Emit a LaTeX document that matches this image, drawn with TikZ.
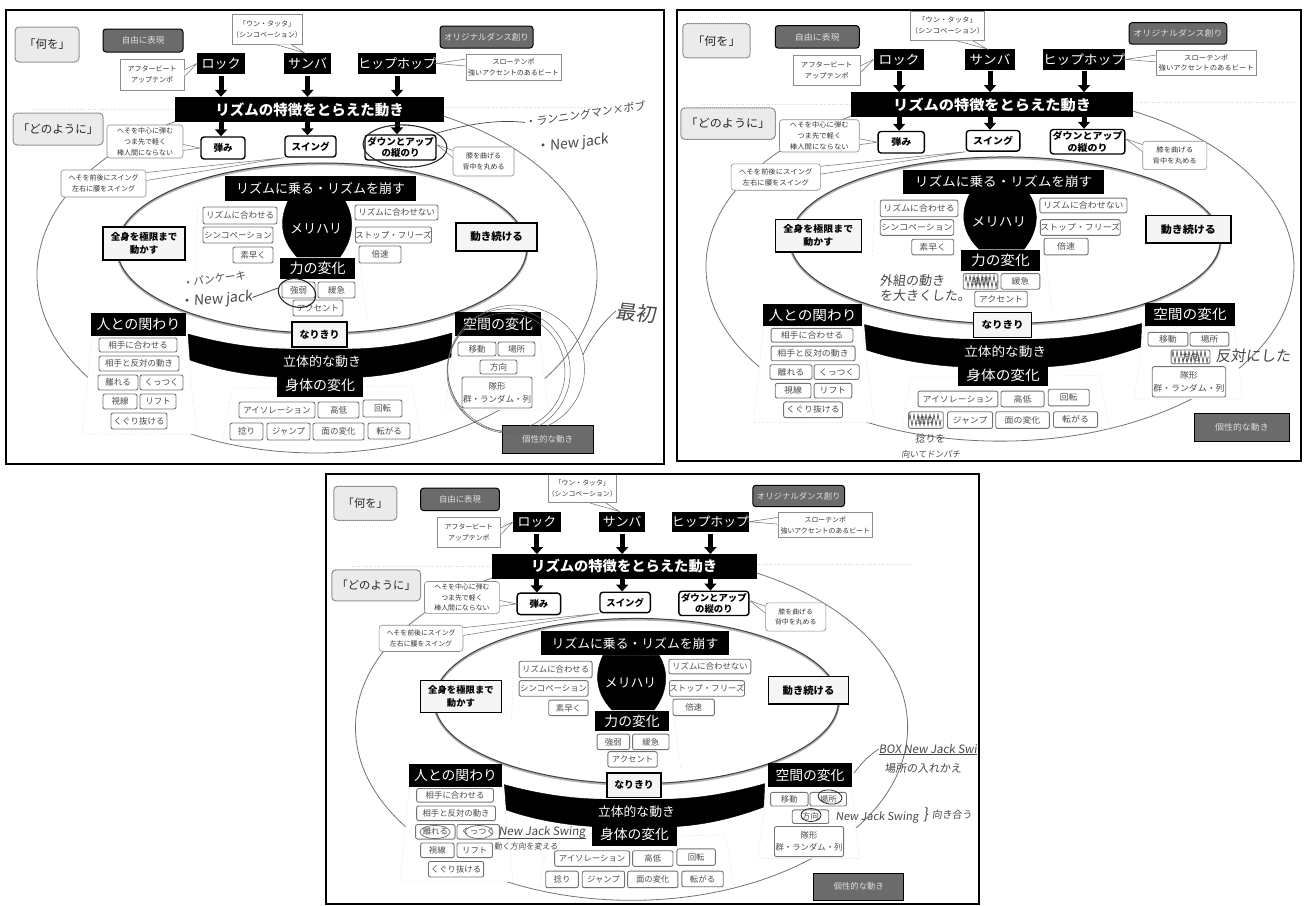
\documentclass[tikz,border=0pt]{standalone}
\usepackage{fontspec}
\setmainfont{Noto Sans CJK JP}
\newfontfamily\hand[FakeSlant=0.12]{Noto Sans CJK JP}
\usetikzlibrary{arrows.meta,calc,shapes.geometric,decorations.pathmorphing}
\tikzset{
  soft/.style={draw=black!55,line width=.9pt,rounded corners=2pt,fill=white,text=black!70,font=\fontsize{8.5}{10}\selectfont},
  note/.style={draw=black!45,line width=.6pt,fill=white,text=black!80,font=\fontsize{7}{11}\selectfont},
  rnote/.style={note,rounded corners=3pt},
  head/.style={fill=black,text=white,font=\fontsize{14}{16}\selectfont},
  chip/.style={fill=black,text=white,font=\fontsize{13}{15}\selectfont},
  heavy/.style={draw=black,line width=1.4pt,rounded corners=3pt,fill=white,text=black,font=\fontsize{9.5}{12}\selectfont\bfseries},
  heavysq/.style={draw=black,line width=1.4pt,fill=black!4,text=black,font=\fontsize{9.5}{13}\selectfont\bfseries},
  light/.style={draw=black!50,line width=1pt,dash pattern=on 1.5pt off .5pt,rounded corners=4pt,fill=black!8,text=black!85,font=\fontsize{11.5}{13}\selectfont},
  darkbox/.style={draw=black,line width=1pt,rounded corners=3pt,fill=black!58,text=black!12,font=\fontsize{8.5}{10}\selectfont},
  darksq/.style={draw=black,line width=1pt,fill=black!58,text=black!12,font=\fontsize{8.5}{10}\selectfont},
  tail/.style={draw=black!50,line width=.6pt,fill=white},
  bigarrow/.style={-{Triangle[width=12pt,length=7pt]},line width=5pt,black},
  faint/.style={draw=black!16,line width=.6pt,dotted,fill=white},
  fainter/.style={draw=black!16,line width=.6pt,dotted},
  hw/.style={draw=black!72,line width=.55pt},
  hwt/.style={text=black!72,inner sep=0pt},
  ringt/.style={draw=black!85,line width=1.1pt,ellipse,inner sep=0pt},
  ringg/.style={draw=black!60,line width=.5pt,ellipse,inner sep=0pt},
  scrib/.style={draw=black!80,line width=.5pt,decorate,decoration={zigzag,segment length=4pt,amplitude=6pt}},
}
\newcommand{\bx}[7][]{%
  \pgfmathsetmacro{\cxx}{(#3+#5)/2}\pgfmathsetmacro{\cyy}{(#4+#6)/2}%
  \pgfmathsetmacro{\www}{#5-#3}\pgfmathsetmacro{\hhh}{#6-#4}%
  \node[#1,minimum width=\www pt,minimum height=\hhh pt,inner sep=0pt,align=center] (\pfx-#2) at (\cxx,\cyy) {#7};}
\newcommand{\panelbody}{%
  % outer and inner ellipses
  \draw[draw=black!55,line width=.8pt] (317,275) ellipse [x radius=280pt,y radius=178pt];
  \filldraw[faint] (92,336) -- (186,336) -- (197,434) -- (82,434) -- cycle;
  \filldraw[faint] (232,388) -- (412,386) -- (421,440) -- (223,440) -- cycle;
  \filldraw[faint] (455,336) -- (540,336) -- (548,410) -- (445,410) -- cycle;
  \draw[fainter] (33,109) -- (175,109);
  \draw[fainter] (444,107) -- (600,107);
  \draw[fainter] (198,205) -- (195,272);
  \draw[fainter] (360,263) -- (367,320);
  \draw[draw=black!30,line width=2.4pt] (322,249) ellipse [x radius=205pt,y radius=85pt];
  \draw[draw=black!75,line width=1pt] (322,248) ellipse [x radius=205pt,y radius=85pt];
  % top labels
  \bx[light]{what}{15}{27}{79}{62}{「何を」}
  \bx[light]{how}{13}{113}{103}{145}{「どのように」}
  \bx[darkbox]{free}{103}{29}{183}{52}{自由に表現}
  \bx[darkbox]{orig}{440}{26}{533}{48}{オリジナルダンス創り}
  % genres
  \bx[chip]{rock}{197}{53}{245}{74}{ロック}
  \bx[chip]{samba}{284}{53}{331}{74}{サンバ}
  \bx[chip]{hiphop}{362}{53}{432}{74}{ヒップホップ}
  \bx[note]{nrock}{120}{59}{184}{90}{アフタービート\\アップテンポ}
  \bx[note]{nsamba}{236}{14}{298}{44}{「ウン・タッタ」\\（シンコペーション）}
  \bx[note]{nhip}{466}{54}{561}{80}{スローテンポ\\強いアクセントのあるビート}
  \draw[tail] (\pfx-nrock.8) -- (\pfx-rock.west) -- (\pfx-nrock.-4);
  \draw[tail] ($(\pfx-nsamba.south)+(8,0)$) -- ($(\pfx-samba.north)+(-3,0)$) -- ($(\pfx-nsamba.south)+(24,0)$);
  \draw[tail] ($(\pfx-nhip.west)+(0,-8)$) -- (\pfx-hiphop.east) -- ($(\pfx-nhip.west)+(0,-1)$);
  % main bar
  \bx[fill=black,text=white,font=\fontsize{14.5}{17}\selectfont\bfseries]{bar}{175}{97}{444}{122}{リズムの特徴をとらえた動き}
  \draw[bigarrow] ($(\pfx-rock.south)+(0,1.5)$) -- (\pfx-rock.south |- \pfx-bar.north);
  \draw[bigarrow] ($(\pfx-samba.south)+(0,1.5)$) -- (\pfx-samba.south |- \pfx-bar.north);
  \draw[bigarrow] ($(\pfx-hiphop.south)+(0,1.5)$) -- (\pfx-hiphop.south |- \pfx-bar.north);
  % qualities
  \bx[heavy]{bounce}{201}{137}{245}{159}{弾み}
  \bx[heavy]{swing}{285}{136}{336}{157}{スイング}
  \bx[heavy,font=\fontsize{9.5}{11.5}\selectfont\bfseries]{down}{365}{135}{436}{160}{ダウンとアップ\\の縦のり}
  \draw[bigarrow] (\pfx-bar.south -| \pfx-rock.south) -- (\pfx-rock.south |- \pfx-bounce.north);
  \draw[bigarrow] (\pfx-bar.south -| \pfx-samba.south) -- (\pfx-samba.south |- \pfx-swing.north);
  \draw[bigarrow] (\pfx-bar.south -| \pfx-hiphop.south) -- (\pfx-hiphop.south |- \pfx-down.north);
  \bx[rnote]{nbounce}{107}{125}{183}{158}{へそを中心に弾む\\つま先で軽く\\棒人間にならない}
  \bx[rnote]{nswing}{61}{170}{146}{197}{へそを前後にスイング\\左右に腰をスイング}
  \bx[rnote]{ndown}{453}{147}{514}{176}{膝を曲げる\\背中を丸める}
  \draw[tail] ($(\pfx-nbounce.east)+(0,3)$) -- (\pfx-bounce.west) -- ($(\pfx-nbounce.east)+(0,9)$);
  \draw[tail] ($(\pfx-nswing.east)+(0,-11)$) -- (\pfx-swing.south west) -- ($(\pfx-nswing.east)+(0,-3)$);
  \draw[tail] ($(\pfx-ndown.west)+(0,-11)$) -- ($(\pfx-down.east)+(0,-3)$) -- ($(\pfx-ndown.west)+(0,-4)$);
  % rhythm block
  \bx[head,font=\fontsize{13}{15}\selectfont]{ride}{225}{176}{416}{201}{リズムに乗る・リズムを崩す}
  \filldraw[fill=black,draw=black] (288,201) .. controls (280,218) and (279,238) .. (297,257) -- (340,257) .. controls (354,238) and (355,218) .. (345,201) -- cycle;
  \node[text=white,font=\fontsize{13}{15}\selectfont,inner sep=0pt] (\pfx-meri) at (316,229) {メリハリ};
  \bx[soft]{l1}{203}{207}{277}{224}{リズムに合わせる}
  \bx[soft]{l2}{203}{227}{273}{243}{シンコペーション}
  \bx[soft]{l3}{233}{247}{273}{263}{素早く}
  \bx[soft]{r1}{355}{205}{438}{220}{リズムに合わせない}
  \bx[soft]{r2}{356}{227}{431}{243}{ストップ・フリーズ}
  \bx[soft]{r3}{359}{246}{401}{263}{倍速}
  \bx[heavysq]{whole}{103}{227}{185}{260}{全身を極限まで\\動かす}
  \bx[heavysq,font=\fontsize{10.5}{12}\selectfont\bfseries]{keep}{456}{223}{537}{251}{動き続ける}
  \bx[head]{force}{280}{258}{355}{279}{力の変化}
  \bx[soft]{f1}{282}{282}{315}{298}{強弱}
  \bx[soft]{f2}{318}{282}{355}{298}{緩急}
  \bx[soft]{f3}{293}{300}{343}{316}{アクセント}
  % band
  \filldraw[fill=black,draw=black] (188,334) .. controls (220,343) and (255,349) .. (292,349) -- (347,349) .. controls (385,349) and (420,342) .. (452,333) -- (451,357) .. controls (425,367) and (395,375) .. (363,377) -- (277,377) .. controls (245,375) and (215,369) .. (190,360) -- cycle;
  \node[text=white,font=\fontsize{13}{15}\selectfont,inner sep=0pt] (\pfx-solid) at (322,362) {立体的な動き};
  \bx[heavysq,font=\fontsize{10}{12}\selectfont\bfseries]{naru}{292}{322}{347}{347}{なりきり}
  % people
  \bx[head]{people}{91}{313}{186}{336}{人との関わり}
  \bx[soft]{p1}{99}{338}{177}{352}{相手に合わせる}
  \bx[soft]{p2}{99}{356}{179}{371}{相手と反対の動き}
  \bx[soft]{p3}{98}{375}{138}{390}{離れる}
  \bx[soft]{p4}{140}{375}{183}{390}{くっつく}
  \bx[soft]{p5}{103}{394}{137}{409}{視線}
  \bx[soft]{p6}{140}{394}{176}{409}{リフト}
  \bx[soft]{p7}{111}{413}{167}{429}{くぐり抜ける}
  % body
  \bx[head]{body}{277}{374}{363}{397}{身体の変化}
  \bx[soft]{b1}{239}{402}{315}{418}{アイソレーション}
  \bx[soft]{b2}{318}{402}{359}{418}{高低}
  \bx[soft]{b3}{363}{400}{402}{417}{回転}
  \bx[soft]{b4}{230}{423}{263}{440}{捻り}
  \bx[soft]{b5}{267}{423}{310}{440}{ジャンプ}
  \bx[soft]{b6}{313}{423}{364}{440}{面の変化}
  \bx[soft]{b7}{368}{423}{410}{439}{転がる}
  % space
  \bx[head]{space}{455}{312}{541}{336}{空間の変化}
  \bx[soft]{s1}{458}{342}{496}{356}{移動}
  \bx[soft]{s2}{498}{342}{535}{356}{場所}
  \bx[soft]{s3}{480}{360}{517}{374}{方向}
  \bx[soft,font=\fontsize{8.5}{13}\selectfont]{s4}{462}{377}{532}{408}{隊形\\群・ランダム・列}
  \bx[darksq]{unique}{502}{425}{593}{453}{個性的な動き}
}
\begin{document}
\begin{tikzpicture}[x=1pt,y=-1pt]
\useasboundingbox (0,0) rectangle (1305,905);
\fill[white] (0,0) rectangle (1305,905);
% ---------- panel 1
\def\pfx{a}
\begin{scope}[transform shape]
\panelbody
\end{scope}
% ---------- panel 2
\def\pfx{b}
\begin{scope}[shift={(667.1,-2.8)},xscale=1.05,yscale=.98,transform shape]
\panelbody
\end{scope}
% ---------- panel 3
\def\pfx{c}
\begin{scope}[shift={(319,460)},xscale=.986,yscale=.972,transform shape]
\panelbody
\end{scope}
% ---------- frames
\draw[black,line width=2pt] (6,10) rectangle (664,464);
\draw[black,line width=2pt] (677,10) rectangle (1301,461);
\draw[black,line width=2pt] (326,474) -- (326,904) -- (979,904) -- (979,474) -- cycle;
% ---------- handwriting, panel 1
\node[hwt,font=\hand\fontsize{11}{12}\selectfont,rotate=8] (h1) at (585,114) {・ランニングマン×ボブ};
\node[hwt,font=\hand\fontsize{14}{15}\selectfont,rotate=6] (h2) at (572,144) {・New jack};
\node[ringt,rotate=-3,minimum width=84pt,minimum height=42pt] (h3) at (405,146) {};
\draw[hw,line width=.7pt] (h3.25) .. controls (465,125) and (495,119) .. (h1.west);
\node[hwt,font=\hand\fontsize{10.5}{12}\selectfont,rotate=8] (h4) at (214,279) {・パンケーキ};
\node[hwt,font=\hand\fontsize{14}{15}\selectfont,rotate=4] (h5) at (216,300) {・New jack};
\node[ringt,rotate=-15,minimum width=38pt,minimum height=28pt] (h6) at (297,293) {};
\draw[hw,line width=.8pt] (h5.east) -- (h6.west);
\node[hwt,font=\hand\fontsize{20}{22}\selectfont,rotate=-6] (h7) at (636,313) {最初};
\node[ringg,minimum width=137pt,minimum height=128pt] (h8) at (516,369) {};
\node[ringg,minimum width=122pt,minimum height=125pt,rotate=20] (h9) at (509,371) {};
\node[ringg,minimum width=118pt,minimum height=118pt,rotate=40] (h10) at (506,372) {};
\draw[hw] (h8.12) .. controls (590,340) and (600,325) .. (h7.west);
% ---------- handwriting, panel 2
\node[hwt,font=\hand\fontsize{13}{15}\selectfont,align=left] (k1) at (925,288) {外組の動き\\を大きくした。};
\draw[scrib] (965,281.5) -- (998,281.5);
\node[hwt,font=\hand\fontsize{15}{17}\selectfont] (k2) at (1253,356) {反対にした};
\draw[scrib] (1172,357) -- (1209,357);
\draw[scrib] (909,420) -- (942,420);
\node[hwt,font=\hand\fontsize{10}{11}\selectfont] (k3) at (930,439) {捻りを};
\node[hwt,font=\hand\fontsize{8.5}{9}\selectfont] (k4) at (931,454) {向いてドンパチ};
% ---------- handwriting, panel 3
\node[hwt,font=\hand\fontsize{11.5}{13}\selectfont] (m1) at (542,832) {New Jack Swing};
\node[hwt,font=\hand\fontsize{8}{9}\selectfont] (m2) at (526,846) {動く方向を変える};
\draw[hw] (m1.south west) -- (m1.south east);
\node[ringg,line width=.7pt,minimum width=30pt,minimum height=13pt] (m3) at (435,832) {};
\node[ringg,line width=.7pt,minimum width=28pt,minimum height=13pt] (m4) at (479,832) {};
\node[hwt,font=\hand\fontsize{11.5}{13}\selectfont] (m5) at (928,749) {BOX New Jack Swi};
\draw[hw] (m5.south west) -- (m5.south east);
\node[hwt,font=\hand\fontsize{11}{12}\selectfont] (m6) at (923,768) {場所の入れかえ};
\draw[hw] (854,773) .. controls (860,765) and (868,756) .. (m5.west);
\node[ringt,line width=.8pt,minimum width=24pt,minimum height=14pt,rotate=-8] (m7) at (830,797) {};
\node[ringt,line width=.8pt,minimum width=20pt,minimum height=13pt] (m8) at (811,815) {};
\node[hwt,font=\hand\fontsize{11}{13}\selectfont] (m9) at (877,817) {New Jack Swing};
\node[hwt,font=\hand\fontsize{15}{17}\selectfont] (m10) at (926,815) {\}};
\node[hwt,font=\hand\fontsize{10}{12}\selectfont] (m11) at (952,815) {向き合う};
\end{tikzpicture}
\end{document}
